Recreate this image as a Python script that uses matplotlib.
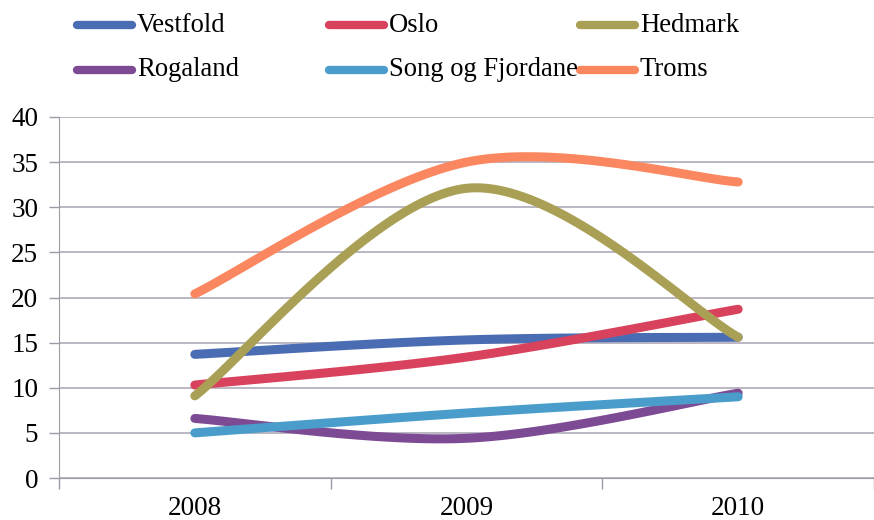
import matplotlib.pyplot as plt
import numpy as np
from matplotlib.lines import Line2D

years = ['2008', '2009', '2010']
series_names = ['Vestfold', 'Oslo', 'Hedmark', 'Rogaland', 'Song og Fjordane', 'Troms']
vestfold = [13.7, 15.3, 15.6]
oslo = [10.3, 13.4, 18.7]
hedmark = [9.1, 32.1, 15.6]
rogaland = [6.6, 4.4, 9.4]
song_og_fjordane = [5.0, 7.2, 9.0]
troms = [20.4, 35.0, 32.8]
colors = ['#4a6cb3', '#d9425c', '#aaa055', '#7d4b94', '#4a9dcb', '#fa875f']


def smooth(xs, ys, n=60):
    # Excel-like smoothed line: cubic Bezier with Catmull-Rom control points
    xs = np.asarray(xs, float)
    ys = np.asarray(ys, float)
    px = np.concatenate([[xs[0]], xs, [xs[-1]]])
    py = np.concatenate([[ys[0]], ys, [ys[-1]]])
    outx, outy = [], []
    t = np.linspace(0, 1, n)
    for i in range(1, len(px) - 2):
        p0 = np.array([px[i], py[i]])
        p3 = np.array([px[i + 1], py[i + 1]])
        c1 = p0 + (p3 - np.array([px[i - 1], py[i - 1]])) / 6
        c2 = p3 - (np.array([px[i + 2], py[i + 2]]) - p0) / 6
        b = (((1 - t) ** 3)[:, None] * p0 + (3 * (1 - t) ** 2 * t)[:, None] * c1
             + (3 * (1 - t) * t ** 2)[:, None] * c2 + (t ** 3)[:, None] * p3)
        outx.extend(b[:, 0])
        outy.extend(b[:, 1])
    return outx, outy


plt.rcParams['font.family'] = ['Liberation Serif', 'DejaVu Serif']

W, H = 874, 520
fig = plt.figure(figsize=(W / 100, H / 100), dpi=100)
ax = fig.add_axes([59 / W, 42 / H, 815 / W, 361 / H])

xpos = np.arange(len(years)) + 0.5
all_series = [vestfold, oslo, hedmark, rogaland, song_og_fjordane, troms]
for name, vals, col in zip(series_names, all_series, colors):
    sx, sy = smooth(xpos, vals)
    ax.plot(sx, sy, color=col, lw=6.5, solid_capstyle='round', label=name)

ax.set_xlim(0, 815 / 275)
ax.set_ylim(0, 40)
ax.set_yticks(range(0, 41, 5))
ax.set_xticks([0, 1, 2, 3])
ax.set_xticklabels([])
ax.set_xticks(xpos, minor=True)
ax.set_xticklabels(years, minor=True)
ax.tick_params(axis='x', which='minor', length=0, labelsize=19.5, pad=13)
ax.tick_params(axis='x', which='major', length=8, color='#9e9aa6', width=1)
ax.tick_params(axis='y', length=7, color='#9e9aa6', width=1, labelsize=19.5, pad=8)
ax.grid(axis='y', color='#b5b1bd', lw=1.3)
ax.set_axisbelow(True)
for s in ['top', 'right']:
    ax.spines[s].set_visible(False)
for s in ['left', 'bottom']:
    ax.spines[s].set_color('#9e9aa6')

# legend drawn by hand: two rows of three, positions in pixels
col_x = [77, 329, 580]
row_y = [25, 70]
for k, name in enumerate(series_names):
    x0 = col_x[k % 3]
    y0 = H - row_y[k // 3]
    fig.add_artist(Line2D([x0 / W, (x0 + 55) / W], [y0 / H, y0 / H],
                          transform=fig.transFigure, color=colors[k], lw=6,
                          solid_capstyle='round'))
    fig.text((x0 + 60) / W, y0 / H, name, fontsize=19.2,
             va='center', ha='left')

fig.savefig('out.png', dpi=100)
